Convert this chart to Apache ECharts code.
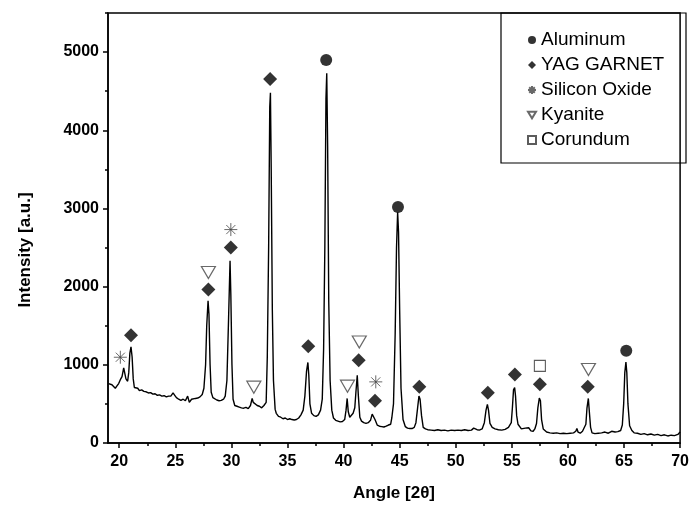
<!DOCTYPE html>
<html>
<head>
<meta charset="utf-8">
<script src="https://cdn.jsdelivr.net/npm/echarts@6/dist/echarts.min.js"></script>
<style>
html, body { margin: 0; padding: 0; background: #fff; }
#chart { width: 692px; height: 509px; }
</style>
</head>
<body>
<div id="chart"></div>
<script>
// XRD pattern
const angle = [
  19.05, 19.2, 19.35, 19.5, 19.65, 19.8, 19.95, 20.1, 20.25, 20.4, 20.5, 20.6, 20.75, 20.85, 20.95, 21.05, 21.15, 21.25, 21.35, 21.5,
  21.65, 21.8, 22.0, 22.2, 22.4, 22.6, 22.8, 23.0, 23.2, 23.4, 23.6, 23.8, 24.0, 24.2, 24.4, 24.6, 24.8, 24.95, 25.1, 25.3,
  25.5, 25.7, 25.9, 26.1, 26.25, 26.45, 26.6, 26.8, 27.0, 27.2, 27.4, 27.55, 27.7, 27.8, 27.92, 28.0, 28.1, 28.2, 28.35, 28.5,
  28.7, 28.9, 29.1, 29.3, 29.45, 29.6, 29.75, 29.88, 29.95, 30.05, 30.15, 30.3, 30.5, 30.7, 30.9, 31.1, 31.3, 31.5, 31.7, 31.85,
  31.95, 32.1, 32.3, 32.5, 32.7, 32.9, 33.1, 33.2, 33.32, 33.42, 33.48, 33.55, 33.65, 33.75, 33.9, 34.0, 34.2, 34.4, 34.6, 34.8,
  35.0, 35.2, 35.4, 35.6, 35.8, 36.0, 36.2, 36.4, 36.55, 36.7, 36.82, 36.9, 37.0, 37.15, 37.35, 37.55, 37.75, 37.95, 38.1, 38.22,
  38.33, 38.43, 38.5, 38.58, 38.68, 38.8, 38.95, 39.1, 39.3, 39.5, 39.7, 39.9, 40.1, 40.22, 40.32, 40.42, 40.55, 40.7, 40.85, 41.0,
  41.1, 41.22, 41.32, 41.45, 41.6, 41.8, 42.0, 42.2, 42.4, 42.55, 42.65, 42.8, 43.0, 43.2, 43.4, 43.6, 43.8, 44.0, 44.2, 44.3,
  44.45, 44.6, 44.72, 44.82, 44.9, 45.0, 45.12, 45.3, 45.5, 45.7, 45.9, 46.1, 46.3, 46.45, 46.6, 46.72, 46.82, 46.95, 47.1, 47.3,
  47.5, 47.8, 48.1, 48.4, 48.7, 49.0, 49.3, 49.6, 49.9, 50.2, 50.5, 50.8, 51.1, 51.4, 51.6, 51.75, 51.9, 52.1, 52.35, 52.55,
  52.7, 52.82, 52.92, 53.05, 53.25, 53.5, 53.8, 54.1, 54.4, 54.7, 54.95, 55.05, 55.15, 55.25, 55.33, 55.43, 55.55, 55.7, 55.85, 56.0,
  56.2, 56.35, 56.5, 56.7, 56.9, 57.05, 57.2, 57.32, 57.45, 57.55, 57.65, 57.8, 57.95, 58.1, 58.4, 58.7, 59.0, 59.3, 59.6, 59.9,
  60.2, 60.5, 60.7, 60.8, 60.9, 61.1, 61.3, 61.45, 61.6, 61.7, 61.82, 61.92, 62.02, 62.15, 62.4, 62.7, 63.0, 63.3, 63.6, 63.9,
  64.05, 64.2, 64.45, 64.7, 64.85, 64.97, 65.07, 65.17, 65.25, 65.35, 65.5, 65.7, 65.9, 66.2, 66.5, 66.8, 67.1, 67.4, 67.7, 68.0,
  68.3, 68.6, 68.9, 69.2, 69.5, 69.8, 70.0
];
const intensity = [
  760, 735, 745, 720, 700, 730, 760, 810, 850, 960, 940, 820, 790, 900, 1150, 1230, 1100, 820, 710, 690,
  700, 670, 680, 660, 655, 640, 645, 625, 630, 610, 615, 600, 605, 590, 600, 600, 640, 610, 580, 560,
  545, 560, 540, 600, 520, 560, 540, 570, 575, 590, 620, 700, 1000, 1500, 1820, 1650, 1000, 650, 580, 560,
  550, 540, 545, 560, 600, 800, 1600, 2330, 1900, 1000, 560, 480, 470, 460, 450, 445, 455, 440, 480, 570,
  520, 500, 480, 470, 450, 480, 520, 1100, 2500, 4300, 4480, 3500, 1700, 800, 430, 380, 340, 330, 310, 320,
  300, 310, 300, 295, 300, 320, 360, 420, 600, 920, 1030, 870, 500, 380, 350, 340, 360, 420, 560, 1200,
  2500, 4400, 4730, 3800, 1800, 800, 420, 320, 290, 280, 270, 275, 300, 420, 570, 400, 330, 340, 380, 450,
  650, 867, 600, 330, 280, 260, 250, 260, 290, 370, 380, 300, 230, 215, 210, 205, 215, 230, 240, 320,
  500, 1400, 2500, 2950, 2700, 1700, 700, 300, 210, 190, 185, 185, 200, 260, 450, 600, 560, 350, 200, 180,
  170, 165, 160, 170, 160, 165, 155, 165, 160, 165, 160, 170, 160, 165, 190, 210, 170, 165, 180, 260,
  420, 495, 420, 250, 200, 180, 170, 165, 175, 200, 260, 450, 680, 710, 600, 350, 240, 230, 180, 170,
  190, 215, 195, 155, 150, 180, 250, 450, 574, 540, 300, 180, 160, 140, 130, 125, 130, 120, 125, 120,
  125, 130, 150, 185, 140, 125, 150, 165, 240, 450, 570, 380, 200, 130, 120, 125, 130, 140, 125, 150,
  165, 140, 145, 160, 230, 500, 900, 1035, 900, 500, 220, 160, 130, 125, 110, 120, 105, 115, 100, 110,
  95, 105, 90, 100, 95, 110, 140
];

// phase markers [angle, intensity]
const aluminum = [[38.45, 4900], [44.85, 3020], [65.2, 1180]];
const yagGarnet = [[21.05, 1378], [27.95, 1964], [29.95, 2500], [33.45, 4656], [36.85, 1237], [41.35, 1059],
  [42.8, 540], [46.75, 718], [52.86, 642], [55.27, 876], [57.5, 753], [61.77, 718]];
const siliconOxide = [[20.1, 1097], [29.95, 2730], [42.87, 782]];
const kyanite = [[27.95, 2181], [32.0, 714], [40.35, 727], [41.4, 1292], [61.83, 940]];
const corundum = [[57.5, 986]];

const xTicks = [20, 25, 30, 35, 40, 45, 50, 55, 60, 65, 70];
const xMinorTicks = [22.5, 27.5, 32.5, 37.5, 42.5, 47.5, 52.5, 57.5, 62.5, 67.5];
const yTicks = [0, 1000, 2000, 3000, 4000, 5000];
const yMinorTicks = [500, 1500, 2500, 3500, 4500, 5500];

const font = 'Liberation Sans, Arial, sans-serif';
const axisLine = { lineStyle: { color: '#000', width: 1.5 } };
const tickStyle = { color: '#000', width: 1.5 };

let chart = echarts.init(document.getElementById('chart'));

let option = {
  animation: false,
  grid: {
    left: 108, right: 6, top: 13, bottom: 66,
    show: true, borderColor: '#000', borderWidth: 1.5
  },
  legend: {
    orient: 'vertical',
    left: 522, top: 25,
    itemWidth: 8, itemHeight: 8, itemGap: 5,
    selectedMode: false,
    textStyle: { fontFamily: font, fontSize: 19, color: '#000', lineHeight: 20 },
    data: ['Aluminum', 'YAG GARNET', 'Silicon Oxide', 'Kyanite', 'Corundum']
  },
  graphic: [
    {
      type: 'rect', silent: true,
      shape: { x: 501, y: 13, width: 185, height: 150 },
      style: { fill: 'none', stroke: '#000', lineWidth: 1.2 }
    },
    {
      type: 'text', silent: true,
      x: 25, y: 250, rotation: Math.PI / 2,
      style: {
        text: 'Intensity [a.u.]', fontFamily: font, fontSize: 17, fontWeight: 'bold',
        fill: '#000', align: 'center', verticalAlign: 'middle'
      }
    }
  ],
  xAxis: [
    {
      type: 'value', min: 19, max: 70, position: 'bottom',
      name: 'Angle [2\u03b8]', nameLocation: 'middle', nameGap: 42,
      nameTextStyle: { fontFamily: font, fontSize: 17, fontWeight: 'bold', color: '#000' },
      axisLine: axisLine,
      axisTick: { customValues: xTicks, length: 5, lineStyle: tickStyle },
      axisLabel: { customValues: xTicks, margin: 11, fontFamily: font, fontSize: 16, fontWeight: 'bold', color: '#000',
        formatter: v => String(v) },
      splitLine: { show: false }
    },
    {
      type: 'value', min: 19, max: 70, position: 'bottom',
      axisLine: { show: false },
      axisTick: { customValues: xMinorTicks, length: 3, lineStyle: tickStyle },
      axisLabel: { show: false },
      splitLine: { show: false }
    }
  ],
  yAxis: [
    {
      type: 'value', min: 0, max: 5500, position: 'left',
      axisLine: axisLine,
      axisTick: { customValues: yTicks, length: 5, lineStyle: tickStyle },
      axisLabel: { customValues: yTicks, margin: 9, fontFamily: font, fontSize: 16, fontWeight: 'bold', color: '#000',
        formatter: v => String(v) },
      splitLine: { show: false }
    },
    {
      type: 'value', min: 0, max: 5500, position: 'left',
      axisLine: { show: false },
      axisTick: { customValues: yMinorTicks, length: 3, lineStyle: tickStyle },
      axisLabel: { show: false },
      splitLine: { show: false }
    }
  ],
  series: [
    {
      type: 'line',
      silent: true,
      showSymbol: false,
      data: angle.map((a, i) => [a, intensity[i]]),
      lineStyle: { color: '#000', width: 1.4 },
      z: 2
    },
    {
      name: 'Aluminum', type: 'scatter', silent: true,
      symbol: 'circle', symbolSize: 12,
      itemStyle: { color: '#000' },
      data: aluminum, z: 3
    },
    {
      name: 'YAG GARNET', type: 'scatter', silent: true,
      symbol: 'diamond', symbolSize: 14,
      itemStyle: { color: '#000' },
      data: yagGarnet, z: 3
    },
    {
      name: 'Silicon Oxide', type: 'scatter', silent: true,
      symbol: 'path://M5,0L5,10M0,5L10,5M1.5,1.5L8.5,8.5M8.5,1.5L1.5,8.5',
      symbolSize: 13,
      itemStyle: { color: 'rgba(0,0,0,0)', borderColor: '#444', borderWidth: 1 },
      data: siliconOxide, z: 3
    },
    {
      name: 'Kyanite', type: 'scatter', silent: true,
      symbol: 'path://M0,0L12,0L6,10Z',
      symbolSize: [14, 12],
      itemStyle: { color: '#fff', borderColor: '#444', borderWidth: 1.2 },
      data: kyanite, z: 3
    },
    {
      name: 'Corundum', type: 'scatter', silent: true,
      symbol: 'rect', symbolSize: 11,
      itemStyle: { color: '#fff', borderColor: '#333', borderWidth: 1.1 },
      data: corundum, z: 3
    }
  ]
};

chart.setOption(option);
</script>
</body>
</html>
